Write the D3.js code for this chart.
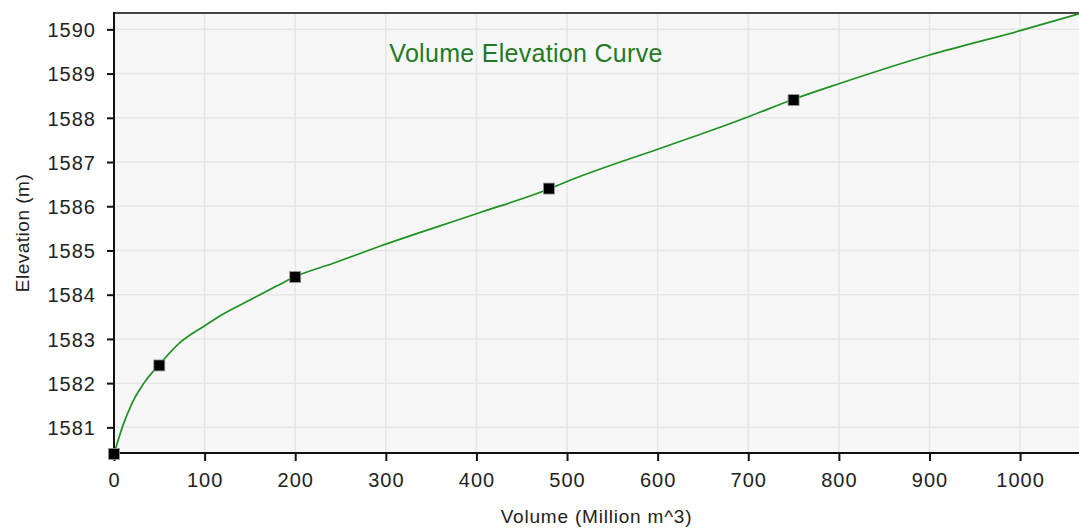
<!DOCTYPE html>
<html>
<head>
<meta charset="utf-8">
<script src="https://cdn.jsdelivr.net/npm/d3@7"></script>
<style>
  html, body { margin: 0; padding: 0; background: #ffffff; }
  svg { display: block; font-family: "Liberation Sans", Arial, sans-serif; }
</style>
</head>
<body>
<svg id="chart" width="1079" height="529"></svg>
<script>
// ---- data ----
const curveVolume    = [0, 10, 20, 33, 50, 73, 101, 121, 150, 180, 200, 242, 294, 400, 480, 500, 600, 645, 701, 750, 800, 900, 1000, 1065];
const curveElevation = [1580.40, 1581.05, 1581.55, 1582.0, 1582.42, 1582.92, 1583.31, 1583.57, 1583.88, 1584.2, 1584.41, 1584.71, 1585.10, 1585.83, 1586.39, 1586.56, 1587.29, 1587.61, 1588.03, 1588.42, 1588.77, 1589.42, 1589.97, 1590.35];
const markerVolume    = [0, 50, 200, 480, 750];
const markerElevation = [1580.4, 1582.4, 1584.4, 1586.4, 1588.4];
const xTicks = [0, 100, 200, 300, 400, 500, 600, 700, 800, 900, 1000];
const yTicks = [1581, 1582, 1583, 1584, 1585, 1586, 1587, 1588, 1589, 1590];
const chartTitle = "Volume Elevation Curve";
const xTitle = "Volume (Million m^3)";
const yTitle = "Elevation (m)";

// ---- layout ----
const W = 1079, H = 529;
const pL = 114, pR = 1079, pT = 13, pB = 453;

const svg = d3.select("#chart");
const x = d3.scaleLinear().domain([0, 1065]).range([pL, pR]);
const y = d3.scaleLinear().domain([1580.42, 1590.37]).range([pB, pT]);

// plot background
svg.append("rect").attr("x", pL).attr("y", pT)
  .attr("width", pR - pL).attr("height", pB - pT)
  .attr("fill", "#f7f7f7");

// grid
svg.append("g").selectAll("line").data(xTicks.filter(d => d > 0)).join("line")
  .attr("x1", d => x(d)).attr("x2", d => x(d))
  .attr("y1", pT).attr("y2", pB)
  .attr("stroke", "#e6e6e6").attr("stroke-width", 1.5);
svg.append("g").selectAll("line").data(yTicks).join("line")
  .attr("x1", pL).attr("x2", pR)
  .attr("y1", d => y(d)).attr("y2", d => y(d))
  .attr("stroke", "#e6e6e6").attr("stroke-width", 1.5);

// axes
const xAxis = d3.axisBottom(x).tickValues(xTicks).tickSize(8).tickPadding(12).tickFormat(d3.format("d"));
const yAxis = d3.axisLeft(y).tickValues(yTicks).tickSize(7).tickPadding(11).tickFormat(d3.format("d"));

const gx = svg.append("g").attr("transform", `translate(0,${pB})`).call(xAxis);
const gy = svg.append("g").attr("transform", `translate(${pL},0)`).call(yAxis);
[gx, gy].forEach(g => {
  g.select(".domain").remove();
  g.selectAll(".tick line").attr("stroke", "#111").attr("stroke-width", 2);
  g.selectAll(".tick text")
    .attr("fill", "#222")
    .style("font-size", "20px")
    .style("letter-spacing", "1px")
    .style("font-family", "'Liberation Sans', Arial, sans-serif");
});
gy.selectAll(".tick text").attr("dy", "0.36em");

// frame lines
svg.append("line").attr("x1", pL).attr("x2", pR).attr("y1", pT).attr("y2", pT)
  .attr("stroke", "#444").attr("stroke-width", 2.2);
svg.append("line").attr("x1", pL).attr("x2", pL).attr("y1", pT - 1).attr("y2", pB + 1)
  .attr("stroke", "#111").attr("stroke-width", 2);
svg.append("line").attr("x1", pL - 1).attr("x2", pR).attr("y1", pB).attr("y2", pB)
  .attr("stroke", "#111").attr("stroke-width", 2);

// curve
const curveData = curveVolume.map((v, i) => [v, curveElevation[i]]);
const line = d3.line().x(d => x(d[0])).y(d => y(d[1])).curve(d3.curveMonotoneX);
svg.append("path").datum(curveData)
  .attr("d", line)
  .attr("fill", "none")
  .attr("stroke", "#1f9123")
  .attr("stroke-width", 1.7);

// markers
const markerData = markerVolume.map((v, i) => [v, markerElevation[i]]);
const ms = 11;
svg.append("g").selectAll("rect").data(markerData).join("rect")
  .attr("x", d => x(d[0]) - ms / 2).attr("y", d => y(d[1]) - ms / 2)
  .attr("width", ms).attr("height", ms)
  .attr("fill", "#000").attr("stroke", "#9a9a9a").attr("stroke-width", 0.8);

// title
svg.append("text").attr("x", 526).attr("y", 62)
  .attr("text-anchor", "middle")
  .attr("fill", "#237a23")
  .style("font-size", "25px")
  .style("letter-spacing", "0.3px")
  .text(chartTitle);

// axis titles
svg.append("text").attr("x", (pL + pR) / 2).attr("y", 523)
  .attr("text-anchor", "middle")
  .attr("fill", "#222")
  .style("font-size", "19px")
  .style("letter-spacing", "0.8px")
  .text(xTitle);

svg.append("text")
  .attr("transform", `translate(29,${(pT + pB) / 2}) rotate(-90)`)
  .attr("text-anchor", "middle")
  .attr("fill", "#222")
  .style("font-size", "19px")
  .style("letter-spacing", "0.5px")
  .text(yTitle);
</script>
</body>
</html>
